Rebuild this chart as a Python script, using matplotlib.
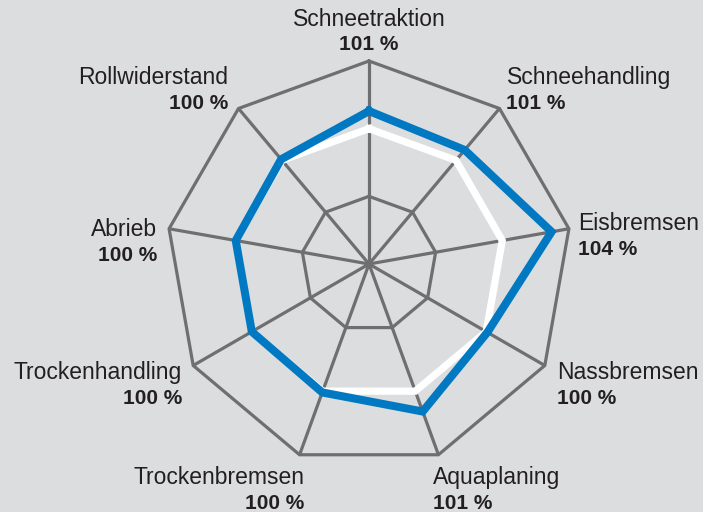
import numpy as np
import matplotlib
matplotlib.use("Agg")
import matplotlib.pyplot as plt

# axes, clockwise from top
categories = ["Schneetraktion", "Schneehandling", "Eisbremsen", "Nassbremsen",
              "Aquaplaning", "Trockenbremsen", "Trockenhandling", "Abrieb",
              "Rollwiderstand"]
percent_labels = ["101 %", "101 %", "104 %", "100 %", "101 %", "100 %",
                  "100 %", "100 %", "100 %"]
# plotted radii (reference = 100)
tyre_values = [113, 110, 137, 101, 116, 101, 100, 100, 101]
reference_values = [100, 100, 100, 100, 100, 100, 100, 100, 100]
ring_levels = [50, 100, 150]

bg = "#dcdddf"
grid_col = "#6f6f71"
blue = "#0079c2"
text_col = "#231f20"

plt.rcParams['font.family'] = ['Liberation Sans', 'DejaVu Sans']

W, H = 703, 512
fig = plt.figure(figsize=(W / 100, H / 100), dpi=100)
fig.patch.set_facecolor(bg)
ax = fig.add_axes([0, 0, 1, 1])
ax.set_facecolor(bg)

# pixel layout: centre and outer radius in px
cx, cy, R = 369, 264, 203
scale = R / ring_levels[-1]  # px per unit
ax.set_xlim(-cx / scale, (W - cx) / scale)
ax.set_ylim(-(H - cy) / scale, cy / scale)
ax.axis("off")

n = len(categories)
ang = np.arange(n) * 2 * np.pi / n
sx, sy = np.sin(ang), np.cos(ang)

def closed(vals):
    v = np.asarray(vals, dtype=float)
    x, y = v * sx, v * sy
    return np.append(x, x[0]), np.append(y, y[0])

outer = ring_levels[-1]
for i in range(n):
    ax.plot([0, outer * sx[i]], [0, outer * sy[i]], color=grid_col, lw=2.3,
            solid_capstyle="butt", zorder=1)
for lvl in ring_levels:
    x, y = closed([lvl] * n)
    ax.plot(x, y, color=grid_col, lw=2.3, solid_joinstyle="miter", zorder=1)

x, y = closed(reference_values)
ax.plot(x, y, color="white", lw=5.2, solid_joinstyle="miter", zorder=2)
x, y = closed(tyre_values)
ax.plot(x, y, color=blue, lw=5.8, solid_joinstyle="miter", zorder=3)

# label placement: (dx px, dy px of first line from vertex, ha)
label_pos = [(0, -42, "center"), (7, -31, "left"), (9, -5, "left"),
             (12, 7, "left"), (-5, 23, "left"), (5, 23, "right"),
             (-11, 7, "right"), (-12, 1, "right"), (-10, -31, "right")]

for i in range(n):
    vx = cx + R * sx[i]
    vy = cy - R * sy[i]
    dx, dy, ha = label_pos[i]
    px, py = vx + dx, vy + dy
    ax.text(px / scale - cx / scale, (cy - py) / scale, categories[i],
            ha=ha, va="center", fontsize=16.5, color=text_col)
    ax.text(px / scale - cx / scale, (cy - py - 26) / scale, percent_labels[i],
            ha=ha, va="center", fontsize=15, fontweight="bold", color=text_col)

fig.savefig("out.png", dpi=100, facecolor=bg)
